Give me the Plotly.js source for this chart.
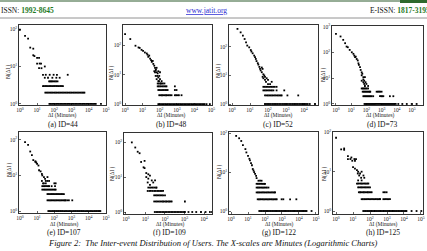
<!DOCTYPE html>
<html><head><meta charset="utf-8">
<script src="https://cdn.plot.ly/plotly-3.0.1.min.js"></script>
<style>html,body{margin:0;padding:0;background:#fff;overflow:hidden}#chart{width:427px;height:251px}</style>
</head><body><div id="chart"></div>
<script>
// ---------------- data ----------------
const panelLabels = ['(a) ID=44','(b) ID=48','(c) ID=52','(d) ID=73','(e) ID=107','(f) ID=109','(g) ID=122','(h) ID=125'];
const xTickVals = [1,10,100,1000,10000,100000];
const xTickText = ['10<sup>0</sup>','10<sup>1</sup>','10<sup>2</sup>','10<sup>3</sup>','10<sup>4</sup>','10<sup>5</sup>'];
const yTickVals = [1,10,100,1000];
const yTickText = ['10<sup>0</sup>','10<sup>1</sup>','10<sup>2</sup>','10<sup>3</sup>'];
const xTitle = 'ΔI (Minutes)';
const yTitle = 'N(ΔI )';
const caption = 'Figure 2:\u00a0 The Inter-event Distribution of Users. The X-scales are Minutes (Logarithmic Charts)';

// panel (a) ID=44 : scattered head points (minutes, count) and rows of equal count
const a_hx = [1,2,3,4,6,6,7,10,13,10,14,17,13,18,28,22,32,54,91,142,28,43,77,131,204,600];
const a_hy = [96,66,56,32,30,20,19,17,17,12,12,12,9,9,10,6,6,6,6,6,5,5,5,5,5,6];
const a_r1 = [52,62,74,89,107,128,154,185,222,266,319,383,460,552,662,795,954,1145,1374,1648,1978,2374,2849,3418,4102,4922,5907,7088,8506,10207,12248,14698,17638,21165,25398,51000];
const a_r2 = [30,36,43,52,62,74,89,107,128,154,185,222,266,319,383,460,552,662,795,954,1145,1374,1648,1978,2374,2849,3418,4102,4922,5600];
const a_r3 = [22,25,30,36,43,52,62,74,89,107,128,154,185,222,266,316];
const a_r4 = [50,58,66,76,89,107,128,154];

// panel (b) ID=48
const b_hx = [1,2,4,6,7,9,11,14,18,20,22,25,28,32,35,40,43,49,54,59,67,73,84,92,49,54,61,67,77,84,95,105,59,67,84,105,118,130];
const b_hy = [235,160,95,83,80,69,64,56,52,47,40,44,35,31,27,29,23,20,17,14,12,9,8,6,13,12,15,17,11,13,9,12,9,7,6,7,5,6];
const b_r1 = [84,100,120,144,173,208,250,300,360,432,518,622,746,895,1074,1289,1547,1856,2227,2672,3207,3848,4618,5542,6650,7980,9576,11491,13789,16547,19856,23827,28593,34311,40000,52000,80000];
const b_r2 = [95,114,137,164,197,236,283,340,408,490,760,900,1080,1300,1850];
const b_r3 = [84,100,120,144,173,208,250,290,760,950];
const b_r4 = [77,89,107,128,154,185,222,250,760];
const b_r5 = [77,89,107,128,154,190];

// panel (c) ID=52
const c_hx = [2,3,4,5,6,7,9,11,12,14,17,19,21,23,27,29,33,36,39,45,45,50,55,62,68,50,55,68,77,84,100,130,160,100,800];
const c_hy = [430,325,250,190,145,112,97,78,69,60,50,44,38,32,27,24,20,17,15,13,19,17,11,10,9,9,8,7,6,8,5,5,6,7,3];
const c_r1 = [68,82,98,118,141,170,204,245,294,353,424,509,611,733,880,1056,1267,1520,1824,2189,2627,3152,3783,4539,5447,6537,7844,9413,11296,13555,16266,21000,41000];
const c_r2 = [68,82,98,118,141,170,204,245,294,353,424,509,575,1200,4800];
const c_r3 = [55,66,79,95,114,137,164,200,300];
const c_r4 = [55,66,79,95,114,137,164,197,236,300];

// panel (d) ID=73
const d_hx = [1,2,3,4,5,6,8,11,14,16,18,20,23,27,30,32,38,42,49,54,63,49,63,72,80,88,63,72,100,49,80,130];
const d_hy = [530,420,310,230,170,160,126,102,89,76,66,69,56,49,38,33,27,21,17,15,11,13,9,8,11,7,7,6,6,8,5,5];
const d_r1 = [75,88,103,120,141,165,193,226,264,309,361,423,495,579,677,792,927,1085,1269,1485,1737,2032,2378,2782,3255,3808,4456,5213,6099,7136,7700,12500,23000,45000,95000,200000];
const d_r2 = [63,74,86,100,117,137,160,187,219,280,780,930,1100,1300,3500,5900];
const d_r3 = [57,66,77,90,105,123,144,168,180,470,560,670,800,1000];
const d_r4 = [49,57,66,77,90,105,130];

// panel (e) ID=107
const e_hx = [2,3,4,5,6,8,8,9,10,12,13,16,19,20,25,29,32,40,19,22,25,32,40,50,100,120];
const e_hy = [86,72,47,37,27,25,24,23,21,19,14,13,11,10,9,8,7,9,7,6,6,6,7,7,6,6];
const e_r1 = [45,54,64,76,91,108,129,154,183,218,260,310,369,440,524,624,744,886,1056,1258,1499,1786,2128,2535,3021,3599,4288,5109,6087,7252,8640,10294,12265,14613,17410,20743,24714,29446,35083,41800,47000];
const e_r2 = [40,47,56,66,78,92,109,129,152,180,213,252,298,352,415,450,560,700,1100];
const e_r3 = [40,47,56,66,78,92,109,129,152,180,213,252,298,360];
const e_r4 = [20,24,28,33,39,46,54,64,76,90,106,120];
const e_r5 = [20,24,28,33,39,46,50,70,110];

// panel (f) ID=109
const f_hx = [2,3,4,5,6,9,8,9,11,14,17,11,14,21,25,31,13,17];
const f_hy = [98,70,53,48,27,29,19,18,13,12,11,10,9,8,7,8,7,6];
const f_r1 = [30,36,43,51,61,73,87,104,124,148,176,210,250,298,355,423,504,600,715,852,1050,1600,2500,4000,7000,12000,20000,26000];
const f_r2 = [28,34,40,48,57,68,80,96,114,136,162,193,220,1050];
const f_r3 = [28,34,40,48,57,68,80,100];
const f_r4 = [13,16,19,23,28,33,40,48,57,68,80];
const f_r5 = [14,17,20,24,29,35,37];

// panel (g) ID=122
const g_hx = [2,3,4,5,7,8,10,12,13,15,17,19,21,23,26,30,32,41,51,63];
const g_hy = [85,74,63,49,39,32,26,22,20,17,15,12,11,10,9,8,7,6,6,6];
const g_r1 = [46,55,65,78,93,110,131,156,186,222,264,314,374,445,530,631,751,894,1064,1267,1508,1795,2137,2544,3028,3605,4291,5108,6081,7239,8617,10258,12211,14536,17304,20599,24521,28000,55000];
const g_r2 = [37,44,52,62,74,88,105,125,149,177,211,251,299,356,424,490,950,1200,3000,7000];
const g_r3 = [32,38,45,54,64,76,90,107,128,152,181,216,257,306,364,390];
const g_r4 = [32,38,45,54,64,76,90,107,128,160];
const g_r5 = [32,38,45,54,64,76,90,100];

// panel (h) ID=125
const h_hx = [1,2,3,3,5,7,8,5,9,12,13,15,10,13,17,20,19,26,32,23,30,41,46,32,20];
const h_hy = [73,37,36,39,25,21,23,21,19,21,19,21,13,12,11,10,9,9,10,8,7,8,7,6,6];
const h_r1 = [40,48,57,68,81,96,115,137,163,194,231,275,328,390,465,553,659,785,935,1113,1326,1579,1881,2240,2668,3178,3785,4508,5369,6394,7616,9070,10803,12866,14000,28000,55000,105000];
const h_r2 = [32,38,46,54,65,77,92,110,131,156,186,222,264,314,374,390,610,730,870,1040,1240,1500];
const h_r3 = [22,26,31,37,44,53,63,75,90,107,125,610,750,950];
const h_r4 = [20,24,29,34,41,49,58,70,83,100];
const h_r5 = [17,20,24,29,34,41,49,58,70,80];

const panelData = [
  [a_hx,a_hy,[a_r1,a_r2,a_r3,a_r4]],
  [b_hx,b_hy,[b_r1,b_r2,b_r3,b_r4,b_r5]],
  [c_hx,c_hy,[c_r1,c_r2,c_r3,c_r4]],
  [d_hx,d_hy,[d_r1,d_r2,d_r3,d_r4]],
  [e_hx,e_hy,[e_r1,e_r2,e_r3,e_r4,e_r5]],
  [f_hx,f_hy,[f_r1,f_r2,f_r3,f_r4,f_r5]],
  [g_hx,g_hy,[g_r1,g_r2,g_r3,g_r4,g_r5]],
  [h_hx,h_hy,[h_r1,h_r2,h_r3,h_r4,h_r5]]
];

// ---------------- layout geometry (pixels) ----------------
const W = 427, H = 251;
const px = v => v / W, py = v => 1 - v / H;
// [left, right, top, bottom]
const boxes = [[19,106,25,105],[123,212,25,105],[229,318,25,105],[332,423,26,105],
               [19,106,132,213],[124,212,133,214],[229,318,132,214],[333,423,132,214]];
const xr = [[-0.05,5.0],[-0.12,5.03],[-0.17,4.78],[-0.26,5.72],[-0.05,5.0],[-0.1,4.41],[-0.12,5.12],[-0.18,5.12]];
const yr = [[-0.03,2.11],[-0.03,2.68],[-0.035,2.77],[-0.04,3.03],[-0.055,2.22],[-0.057,2.26],[-0.077,2.03],[-0.076,2.01]];
const xTitlePos = [[62,115],[171,115],[278,115],[380,115],[64,224],[170,224],[279,224],[383,224]];
const yTitlePos = [[9,72],[112,73],[219,71],[324,75],[9,170],[112,174],[219,172],[324,174]];
const labelPos = [[63,124],[171,124],[278,124],[382,124],[64,232],[169,232],[279,232],[383,232]];

const serif = 'Liberation Serif, Times New Roman, serif';
const traces = [];
const layout = {
  width: W, height: H, margin: {l:0,r:0,t:0,b:0},
  paper_bgcolor: '#fff', plot_bgcolor: '#fff', showlegend: false,
  font: {family: serif, color: '#111'},
  annotations: [], shapes: []
};

panelData.forEach((pd, i) => {
  const n = i === 0 ? '' : String(i + 1);
  const xs = pd[0].slice(), ys = pd[1].slice();
  pd[2].forEach((row, k) => { row.forEach(v => { xs.push(v); ys.push(k + 1); }); });
  traces.push({
    type: 'scatter', mode: 'markers', x: xs, y: ys,
    xaxis: 'x' + n, yaxis: 'y' + n, cliponaxis: true,
    marker: {symbol: 'square', size: 1.8, color: '#000', line: {width: 0}},
    hoverinfo: 'skip'
  });
  const b = boxes[i];
  const common = {
    type: 'log', showline: true, mirror: true, linecolor: '#000', linewidth: 0.8,
    ticks: 'inside', ticklen: 2, tickwidth: 0.6, tickcolor: '#000',
    showgrid: false, zeroline: false, fixedrange: true,
    tickfont: {family: serif, size: 5.5, color: '#222'}
  };
  layout['xaxis' + n] = Object.assign({}, common, {
    domain: [px(b[0]), px(b[1])], anchor: 'y' + n, range: xr[i],
    tickmode: 'array', tickvals: xTickVals, ticktext: xTickText
  });
  layout['yaxis' + n] = Object.assign({}, common, {
    domain: [py(b[3]), py(b[2])], anchor: 'x' + n, range: yr[i],
    tickmode: 'array', tickvals: yTickVals, ticktext: yTickText
  });
  layout.annotations.push({xref:'paper', yref:'paper', x: px(xTitlePos[i][0]), y: py(xTitlePos[i][1]),
    text: xTitle, showarrow: false, xanchor: 'center', yanchor: 'middle',
    font: {family: serif, size: 5.5, color: '#222'}});
  layout.annotations.push({xref:'paper', yref:'paper', x: px(yTitlePos[i][0]), y: py(yTitlePos[i][1]),
    text: yTitle, showarrow: false, xanchor: 'center', yanchor: 'middle', textangle: -90,
    font: {family: serif, size: 5.5, color: '#222'}});
  layout.annotations.push({xref:'paper', yref:'paper', x: px(labelPos[i][0]), y: py(labelPos[i][1]),
    text: panelLabels[i], showarrow: false, xanchor: 'center', yanchor: 'middle',
    font: {family: serif, size: 7.5, color: '#111'}});
});

// caption
layout.annotations.push({xref:'paper', yref:'paper', x: px(212), y: py(243), text: '<i>' + caption + '</i>',
  showarrow: false, xanchor: 'center', yanchor: 'middle', font: {family: serif, size: 8.5, color: '#111'}});
// header
layout.annotations.push({xref:'paper', yref:'paper', x: px(-1), y: py(11), xanchor: 'left', yanchor: 'middle', showarrow: false,
  text: 'ISSN: <b><span style="color:#1f7a1f">1992-8645</span></b>', font: {family: serif, size: 7.5, color: '#111'}});
layout.annotations.push({xref:'paper', yref:'paper', x: px(206), y: py(11), xanchor: 'center', yanchor: 'middle', showarrow: false,
  text: '<span style="text-decoration:underline">www.jatit.org</span>', font: {family: serif, size: 7.5, color: '#2a2ad0'}});
layout.annotations.push({xref:'paper', yref:'paper', x: px(368), y: py(11), xanchor: 'left', yanchor: 'middle', showarrow: false,
  text: 'E-ISSN: <b><span style="color:#1f7a1f">1817-3195</span></b>', font: {family: serif, size: 7.5, color: '#111'}});
layout.shapes.push({type:'line', xref:'paper', yref:'paper', x0: 0, x1: 1, y0: py(18), y1: py(18), line: {color:'#777', width: 0.8}});
layout.shapes.push({type:'line', xref:'paper', yref:'paper', x0: 0, x1: 1, y0: py(1), y1: py(1), line: {color:'#2d5a2d', width: 1}});
layout.shapes.push({type:'rect', xref:'paper', yref:'paper', x0: px(400), x1: 1, y0: py(3), y1: 1, line: {width: 0}, fillcolor: '#2d6a2d'});

Plotly.newPlot('chart', traces, layout, {staticPlot: true, displayModeBar: false});
</script>
</body></html>
